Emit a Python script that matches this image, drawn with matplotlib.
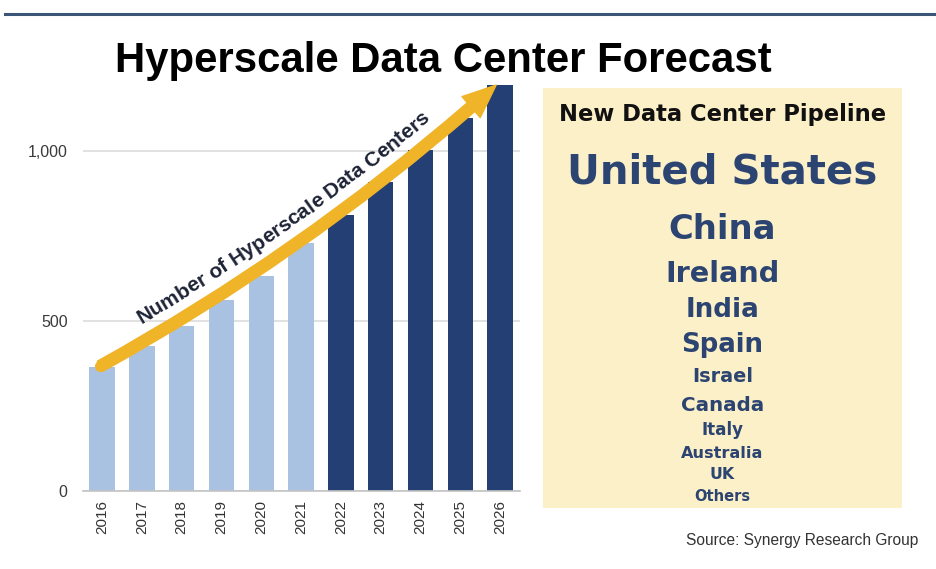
import numpy as np
import matplotlib
matplotlib.use("Agg")
import matplotlib.pyplot as plt
from matplotlib.patches import FancyArrowPatch, ArrowStyle
from matplotlib.lines import Line2D
from matplotlib.font_manager import FontProperties
from matplotlib.transforms import IdentityTransform

# data
years = ["2016", "2017", "2018", "2019", "2020", "2021",
         "2022", "2023", "2024", "2025", "2026"]
data_centers = [365, 425, 485, 560, 632, 728, 812, 908, 1002, 1096, 1193]
first_forecast_year = "2022"
y_ticks = [0, 500, 1000]
y_tick_labels = ["0", "500", "1,000"]
pipeline_countries = ["United States", "China", "Ireland", "India", "Spain",
                      "Israel", "Canada", "Italy", "Australia", "UK", "Others"]

title = "Hyperscale Data Center Forecast"
arrow_label = "Number of Hyperscale Data Centers"
box_title = "New Data Center Pipeline"
source = "Source: Synergy Research Group"

# styles
W, H = 936, 569
light_blue = "#a9c2e2"
dark_blue = "#233f74"
arrow_yellow = "#f0b429"
box_color = "#fcf0c8"
box_text = "#2c4471"

fig = plt.figure(figsize=(W / 100, H / 100), dpi=100)
fig.patch.set_facecolor("white")


def fx(px):
    return px / W


def fy(py):
    return 1 - py / H


# chart axes
ax = fig.add_axes([fx(83), fy(490.7), fx(520) - fx(83), fy(82.7) - fy(490.7)])
x = np.arange(len(years))
colors = [dark_blue if int(y) >= int(first_forecast_year) else light_blue for y in years]
ax.bar(x, data_centers, width=0.64, color=colors, zorder=2)
ax.set_xlim(-0.48, 10.5)
ax.set_ylim(0, 1200)
ax.set_xticks(x)
ax.set_xticklabels(years, rotation=90, fontsize=11, family="Liberation Sans", color="#333333")
ax.set_yticks(y_ticks)
ax.set_yticklabels(y_tick_labels, fontsize=11.5, family="Liberation Sans", color="#3a3a3a")
ax.tick_params(axis="both", length=0)
ax.tick_params(axis="x", pad=7)
ax.tick_params(axis="y", pad=11)
ax.yaxis.grid(True, color="#dcdcdc", linewidth=1.2, zorder=0)
ax.set_axisbelow(True)
for side in ["top", "right", "left"]:
    ax.spines[side].set_visible(False)
ax.spines["bottom"].set_color("#c4c4c4")
ax.spines["bottom"].set_linewidth(1.2)
ax.set_facecolor("none")

# curved arrow over the bars
start = (-0.05, 366)
end = (9.9, 1193)
rad = 0.056
arrow = FancyArrowPatch(start, end, connectionstyle=f"arc3,rad={rad}",
                        arrowstyle=ArrowStyle.Simple(head_length=2.4, head_width=2.0, tail_width=0.83),
                        mutation_scale=10, color=arrow_yellow, shrinkA=0, shrinkB=0,
                        zorder=4, clip_on=False)
ax.add_patch(arrow)
ax.plot([start[0]], [start[1]], "o", ms=8.0, color=arrow_yellow, mec="none", zorder=4, clip_on=False)

# label following the arrow curve
p0 = ax.transData.transform(start)
p2 = ax.transData.transform(end)
mid = (p0 + p2) / 2
d = p2 - p0
pc = np.array([mid[0] + rad * d[1], mid[1] - rad * d[0]])
t = np.linspace(0, 1, 2000)[:, None]
curve = (1 - t) ** 2 * p0 + 2 * t * (1 - t) * pc + t ** 2 * p2
seg = np.hypot(*np.diff(curve, axis=0).T)
arc = np.concatenate([[0], np.cumsum(seg)])

renderer = fig.canvas.get_renderer()
prop = FontProperties(family="Liberation Sans", weight="bold", size=15)


def text_w(s):
    return renderer.get_text_width_height_descent(s, prop, ismath=False)[0]


base = text_w("xx")
widths = [text_w("x" + c + "x") - base for c in arrow_label]
s_pos = 57.0
offset = 16.5
for ch, w in zip(arrow_label, widths):
    sc = s_pos + w / 2
    px = np.interp(sc, arc, curve[:, 0])
    py = np.interp(sc, arc, curve[:, 1])
    i = min(np.searchsorted(arc, sc), len(arc) - 2)
    tx, ty = curve[i + 1] - curve[i]
    n = np.hypot(tx, ty)
    tx, ty = tx / n, ty / n
    ang = np.degrees(np.arctan2(ty, tx))
    fig.text(px - ty * offset, py + tx * offset, ch, transform=IdentityTransform(),
             fontproperties=prop, color="#1e2436", rotation=ang,
             rotation_mode="anchor", ha="center", va="baseline", zorder=5)
    s_pos += w

# title and top rule
fig.add_artist(Line2D([fx(5), 1], [fy(13.5), fy(13.5)], color="#3b5578", linewidth=2.2))
fig.text(fx(443), fy(72), title, ha="center", va="baseline",
         family="Liberation Sans", weight="bold", fontsize=30.2, color="black")

# pipeline box
box = fig.add_axes([fx(543), fy(508), fx(902) - fx(543), fy(88) - fy(508)])
box.set_facecolor(box_color)
box.set_xticks([])
box.set_yticks([])
for sp in box.spines.values():
    sp.set_visible(False)

box_cx = fx(722.5)
fig.text(box_cx, fy(120.7), box_title, ha="center", va="baseline",
         family="DejaVu Sans", weight="bold", fontsize=16.3, color="#111111")
country_sizes = [29, 24.4, 20.7, 18.9, 18.7, 13.9, 14.3, 12.1, 11.6, 11.3, 10.5]
country_baselines = [183.3, 239.3, 281.7, 316.7, 351.7, 381.7, 410.7, 435, 457.7, 479.3, 500.7]
for name, size, yb in zip(pipeline_countries, country_sizes, country_baselines):
    fig.text(box_cx, fy(yb), name, ha="center", va="baseline",
             family="DejaVu Sans", weight="bold", fontsize=size, color=box_text)

fig.text(fx(918), fy(545), source, ha="right", va="baseline",
         family="Liberation Sans", fontsize=11.2, color="#333333")

fig.savefig("out.png", dpi=100)
